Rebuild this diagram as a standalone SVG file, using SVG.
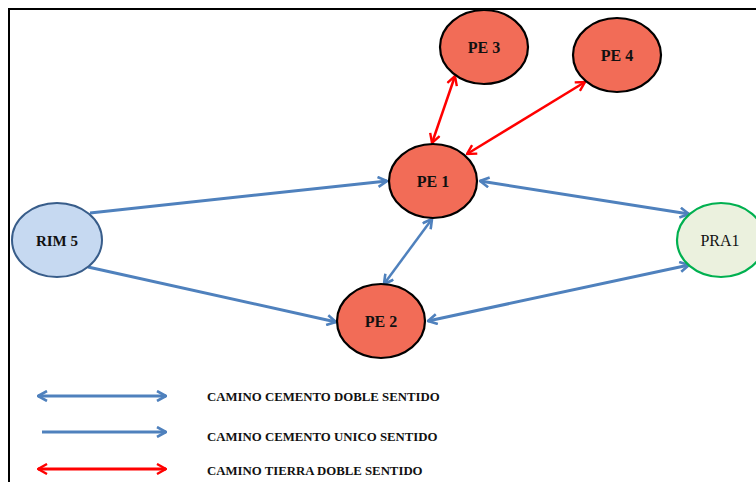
<svg xmlns="http://www.w3.org/2000/svg" width="756" height="482" viewBox="0 0 756 482">
<style>
.pe{fill:#f26c57;stroke:#000;stroke-width:2.2}
.lbl{font-family:"Liberation Serif",serif;font-weight:bold;font-size:16px;text-anchor:middle;fill:#111}
.leg{font-family:"Liberation Serif",serif;font-weight:bold;font-size:12.8px;fill:#111}
.blue{stroke:#4f81bd;stroke-width:3;fill:none}
.red{stroke:#ff0000;stroke-width:2.5;fill:none}
</style>
<defs>
<marker id="ab" viewBox="0 0 12 12" refX="11" refY="6" markerWidth="12" markerHeight="12" markerUnits="userSpaceOnUse" orient="auto-start-reverse">
<path d="M2,1 L11,6 L2,11" fill="none" stroke="#4f81bd" stroke-width="2.6"/>
</marker>
<marker id="ar" viewBox="0 0 12 12" refX="11" refY="6" markerWidth="12" markerHeight="12" markerUnits="userSpaceOnUse" orient="auto-start-reverse">
<path d="M2,1 L11,6 L2,11" fill="none" stroke="#ff0000" stroke-width="2.4"/>
</marker>
</defs>
<rect x="0" y="0" width="756" height="482" fill="#fff"/>
<path d="M9,482 V9 H756" fill="none" stroke="#000" stroke-width="2"/>
<g id="connectors">
<line class="blue" x1="90" y1="213" x2="387" y2="181" marker-end="url(#ab)"/>
<line class="blue" x1="88" y1="267" x2="336" y2="322" marker-end="url(#ab)"/>
<line class="blue" x1="480" y1="181" x2="689" y2="214" marker-start="url(#ab)" marker-end="url(#ab)"/>
<line class="blue" x1="432" y1="219" x2="384" y2="284" marker-start="url(#ab)" marker-end="url(#ab)" style="stroke-width:2.5"/>
<line class="blue" x1="428" y1="321" x2="689" y2="265" marker-start="url(#ab)" marker-end="url(#ab)"/>
<line class="red" x1="455" y1="76" x2="432" y2="143" marker-start="url(#ar)" marker-end="url(#ar)"/>
<line class="red" x1="585" y1="82" x2="467" y2="154" marker-start="url(#ar)" marker-end="url(#ar)"/>
</g>
<g id="pe3"><ellipse class="pe" cx="484" cy="47" rx="44" ry="37"/><text class="lbl" x="484" y="53">PE  3</text></g>
<g id="pe4"><ellipse class="pe" cx="617" cy="55" rx="44" ry="37"/><text class="lbl" x="617" y="61">PE  4</text></g>
<g id="pe1"><ellipse class="pe" cx="433" cy="181" rx="44" ry="37"/><text class="lbl" x="433" y="187">PE 1</text></g>
<g id="pe2"><ellipse class="pe" cx="381" cy="321" rx="44" ry="37"/><text class="lbl" x="381" y="327">PE 2</text></g>
<g id="rim5"><ellipse cx="57" cy="240" rx="45" ry="37" fill="#c6d9f1" stroke="#385d8a" stroke-width="2"/><text class="lbl" x="57" y="246" style="font-size:15px">RIM 5</text></g>
<g id="pra1"><ellipse cx="721" cy="240" rx="44" ry="37" fill="#ebf1de" stroke="#00b050" stroke-width="2.2"/><text class="lbl" x="720" y="246" style="font-weight:normal">PRA1</text></g>
<g id="legend">
<line class="blue" x1="38" y1="396" x2="166" y2="396" marker-start="url(#ab)" marker-end="url(#ab)"/>
<line class="blue" x1="42" y1="432" x2="166" y2="432" marker-end="url(#ab)"/>
<line class="red" x1="38" y1="469" x2="166" y2="469" marker-start="url(#ar)" marker-end="url(#ar)" style="stroke-width:3"/>
<text class="leg" x="207" y="401">CAMINO CEMENTO DOBLE SENTIDO</text>
<text class="leg" x="207" y="441">CAMINO CEMENTO UNICO SENTIDO</text>
<text class="leg" x="207" y="475">CAMINO TIERRA DOBLE SENTIDO</text>
</g>
</svg>
